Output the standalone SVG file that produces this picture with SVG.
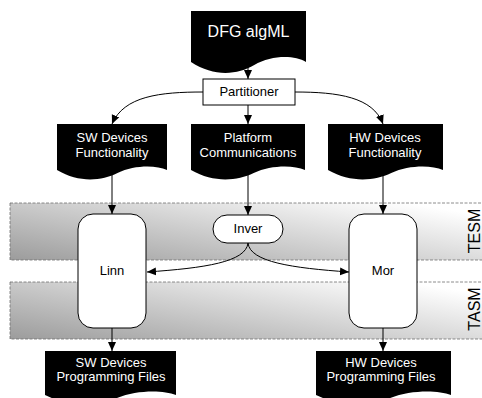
<svg xmlns="http://www.w3.org/2000/svg" width="482" height="398" viewBox="0 0 482 398">
<style>
  .doc { fill: #000; stroke: none; }
  .dt { font-family: "Liberation Sans", Arial, sans-serif; font-size: 13px; fill: #fff; text-anchor: middle; }
  .bt { font-family: "Liberation Sans", Arial, sans-serif; font-size: 13px; fill: #000; text-anchor: middle; }
  .lane { stroke: #6e6e6e; stroke-width: 0.8; stroke-dasharray: 3 1.5; }
  .lt { font-family: "Liberation Sans", Arial, sans-serif; font-size: 16px; fill: #000; text-anchor: middle; }
  .box { fill: #fff; stroke: #000; stroke-width: 1; }
  .c { fill: none; stroke: #000; stroke-width: 1; marker-end: url(#ah); }
</style>
<defs>
  <marker id="ah" markerUnits="userSpaceOnUse" markerWidth="10" markerHeight="10" viewBox="0 0 10 10" refX="9" refY="5" orient="auto">
    <path d="M0,1 L9,5 L0,9 Z" fill="#000"/>
  </marker>
  <linearGradient id="g1" gradientUnits="userSpaceOnUse" x1="10" y1="260" x2="30" y2="140">
    <stop offset="0" stop-color="#9c9c9c"/>
    <stop offset="1" stop-color="#ffffff"/>
  </linearGradient>
  <linearGradient id="g2" gradientUnits="userSpaceOnUse" x1="10" y1="339" x2="30" y2="219">
    <stop offset="0" stop-color="#9c9c9c"/>
    <stop offset="1" stop-color="#ffffff"/>
  </linearGradient>
</defs>

<g id="lane-tesm">
  <rect class="lane" x="10" y="203" width="480" height="57" fill="url(#g1)"/>
  <text class="lt" transform="translate(480,231) rotate(-90)">TESM</text>
</g>
<g id="lane-tasm">
  <rect class="lane" x="10" y="282" width="480" height="57" fill="url(#g2)"/>
  <text class="lt" transform="translate(480,309) rotate(-90)">TASM</text>
</g>

<g id="connectors">
  <path class="c" d="M248,62 L248,79"/>
  <path class="c" d="M203,92 C160,92 124,96 112,124"/>
  <path class="c" d="M248,105 L248,124"/>
  <path class="c" d="M295,92 C338,92 373,97 383,124"/>
  <path class="c" d="M112,168 L112,214"/>
  <path class="c" d="M248,168 L248,215"/>
  <path class="c" d="M383,168 L383,214"/>
  <path class="c" d="M248,243 C246,262 205,268 147,272"/>
  <path class="c" d="M248,243 C250,262 292,268 349,272"/>
  <path class="c" d="M112,328 L112,351"/>
  <path class="c" d="M383,328 L383,351"/>
</g>

<g id="dfg">
  <path class="doc" d="M191,11 H306 V62 C294.5,55 271.5,55 254.25,65 C237,75 214,77 191,62 Z"/>
  <text class="dt" x="248.5" y="37" style="font-size:16px">DFG algML</text>
</g>

<g id="partitioner">
  <rect class="box" x="203" y="79" width="92" height="26"/>
  <text class="bt" x="249" y="96">Partitioner</text>
</g>

<g id="sw-func">
  <path class="doc" d="M57,124 H167 V170 C156,165 134,165 117.5,173 C101,181 79,183 57,170 Z"/>
  <text class="dt" x="112" y="142">SW Devices</text>
  <text class="dt" x="112" y="157">Functionality</text>
</g>

<g id="platform-comm">
  <path class="doc" d="M191,124 H305 V170 C293.6,165 270.8,165 253.7,173 C236.6,181 213.8,183 191,170 Z"/>
  <text class="dt" x="248" y="142">Platform</text>
  <text class="dt" x="248" y="157">Communications</text>
</g>

<g id="hw-func">
  <path class="doc" d="M328,124 H443 V170 C431.5,165 408.5,165 391.25,173 C374,181 351,183 328,170 Z"/>
  <text class="dt" x="385" y="142">HW Devices</text>
  <text class="dt" x="385" y="157">Functionality</text>
</g>

<g id="inver">
  <rect class="box" x="213" y="215" width="70" height="28" rx="14" ry="14"/>
  <text class="bt" x="248" y="233">Inver</text>
</g>

<g id="linn">
  <rect class="box" x="78" y="214" width="68" height="114" rx="15" ry="15"/>
  <text class="bt" x="112" y="275">Linn</text>
</g>

<g id="mor">
  <rect class="box" x="349" y="214" width="68" height="114" rx="15" ry="15"/>
  <text class="bt" x="383" y="275">Mor</text>
</g>

<g id="sw-prog">
  <path class="doc" d="M45,351 H176 V395 C162.9,390 136.7,390 117,398 C97.4,406 71.2,408 45,395 Z"/>
  <text class="dt" x="111" y="367">SW Devices</text>
  <text class="dt" x="111" y="381">Programming Files</text>
</g>

<g id="hw-prog">
  <path class="doc" d="M316,351 H451 V395 C437.5,390 410.5,390 390.25,398 C370,406 343,408 316,395 Z"/>
  <text class="dt" x="381" y="367">HW Devices</text>
  <text class="dt" x="381" y="381">Programming Files</text>
</g>
</svg>
